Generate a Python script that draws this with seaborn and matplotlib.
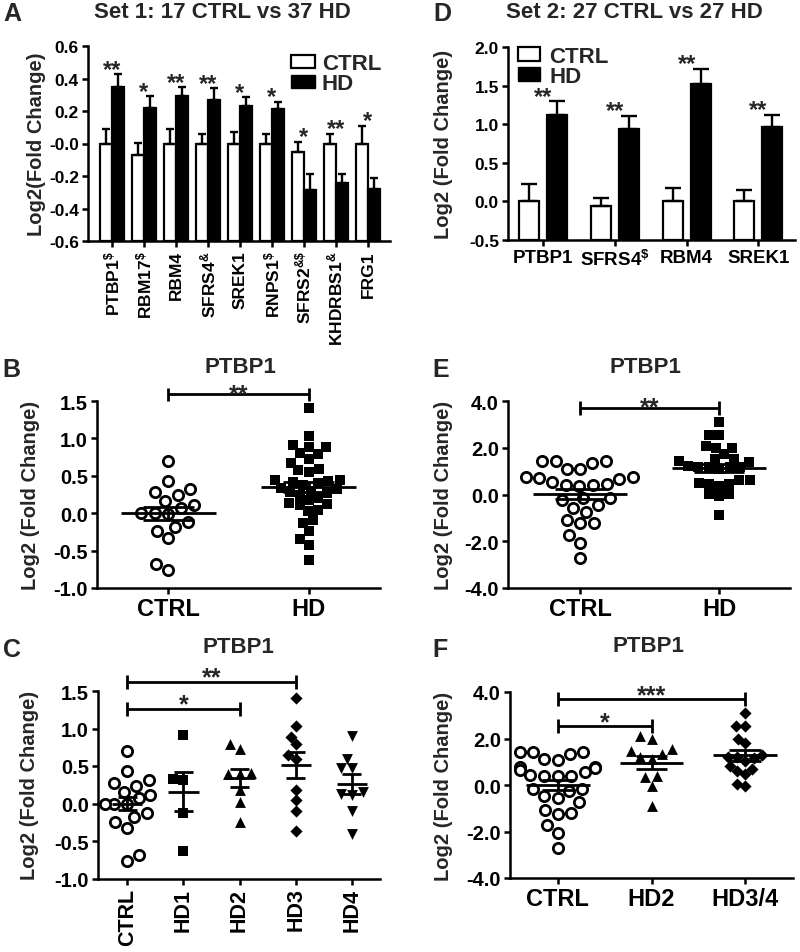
import numpy as np
import pandas as pd
import matplotlib
matplotlib.use("Agg")
import matplotlib.pyplot as plt
import seaborn as sns
from matplotlib.patches import Patch
from matplotlib.ticker import FormatStrFormatter

sns.set_theme(style="ticks")
plt.rcParams['font.family'] = ['Liberation Sans', 'DejaVu Sans']
plt.rcParams['font.weight'] = 'bold'
plt.rcParams['axes.labelweight'] = 'bold'
plt.rcParams['axes.unicode_minus'] = False
plt.rcParams['mathtext.fontset'] = 'custom'
plt.rcParams['mathtext.rm'] = 'Liberation Sans:bold'
plt.rcParams['mathtext.it'] = 'Liberation Sans:bold'
plt.rcParams['mathtext.bf'] = 'Liberation Sans:bold'
plt.rcParams['mathtext.default'] = 'bf'

# ---------------- data ----------------
genes_A = ["PTBP1$^{\\$}$", "RBM17$^{\\$}$", "RBM4", "SFRS4$^{&}$", "SREK1",
           "RNPS1$^{\\$}$", "SFRS2$^{&\\$}$", "KHDRBS1$^{&}$", "FRG1"]
ctrl_A = [0.0, -0.07, 0.0, 0.0, 0.0, 0.0, -0.05, 0.0, 0.0]
ctrl_A_sem = [0.09, 0.075, 0.09, 0.06, 0.07, 0.06, 0.06, 0.06, 0.11]
hd_A = [0.35, 0.22, 0.29, 0.27, 0.23, 0.21, -0.285, -0.24, -0.28]
hd_A_sem = [0.075, 0.07, 0.055, 0.07, 0.055, 0.045, 0.10, 0.055, 0.07]
stars_A = ["**", "*", "**", "**", "*", "*", "*", "**", "*"]

genes_D = ["PTBP1", "SFRS4$^{\\$}$", "RBM4", "SREK1"]
ctrl_D = [0.01, -0.065, 0.01, 0.01]
ctrl_D_sem = [0.21, 0.105, 0.16, 0.14]
hd_D = [1.125, 0.94, 1.525, 0.96]
hd_D_sem = [0.17, 0.17, 0.19, 0.16]
stars_D = ["**", "**", "**", "**"]

# Set 1 (17 CTRL vs 37 HD)
ctrl_set1 = [0.70, 0.43, 0.32, 0.28, 0.24, 0.16, 0.11, 0.07, 0.0, -0.01, 0.0,
             -0.12, -0.18, -0.24, -0.33, -0.68, -0.76]
hd_set1 = [1.41, 1.03, 0.91, 0.88, 0.88, 0.81, 0.79, 0.73, 0.67, 0.59, 0.58, 0.55,
           0.45, 0.45, 0.43, 0.42, 0.40, 0.38, 0.34, 0.32, 0.30, 0.28, 0.27, 0.25,
           0.20, 0.17, 0.14, 0.12, 0.11, 0.04, 0.03, -0.09, -0.13, -0.24, -0.35,
           -0.42, -0.63]
hd1_set1 = [0.92, 0.33, 0.31, -0.13, -0.63]
hd2_set1 = [0.80, 0.73, 0.41, 0.40, 0.40, 0.18, 0.02, -0.24]
hd3_set1 = [1.41, 1.03, 0.89, 0.79, 0.65, 0.60, 0.18, 0.05, -0.10, -0.36]
hd4_set1 = [0.90, 0.60, 0.47, 0.47, 0.16, 0.13, 0.12, -0.10, -0.40]

# Set 2 (27 CTRL vs 27 HD)
ctrl_set2 = [1.44, 1.44, 1.33, 1.44, 1.11, 1.07, 0.76, 0.76, 0.71, 0.54, 0.43, 0.66,
             0.40, 0.37, 0.40, -0.17, -0.24, -0.17, -0.57, -0.46, -0.74, -1.24,
             -1.07, -1.20, -1.74, -2.06, -2.72]
hd_set2 = [3.11, 2.54, 2.54, 2.07, 2.0, 2.0, 1.73, 1.54, 1.5, 1.37, 1.43, 1.16,
           1.16, 1.2, 1.1, 1.16, 1.16, 0.47, 0.36, 0.01, 0.61, 0.64, 0.47, 0.5,
           -0.07, 0.04, -0.89]
hd2_set2 = [2.09, 2.0, 1.54, 1.47, 1.33, 1.19, 1.11, 0.40, 0.36, -0.03, -0.89]
hd34_set2 = [3.11, 2.54, 2.54, 2.0, 1.79, 1.30, 1.20, 1.19, 1.16, 1.04, 0.83,
             0.69, 0.61, 0.47, 0.04, -0.06]

# ---------------- figure ----------------
W, H = 800, 953
fig = plt.figure(figsize=(W / 100, H / 100), dpi=100)


def ax_px(l, r, t, b):
    return fig.add_axes([l / W, 1 - b / H, (r - l) / W, (b - t) / H])


def style(ax, ytick_fs, xtick_fs):
    sns.despine(ax=ax)
    for s in ["left", "bottom"]:
        ax.spines[s].set_linewidth(1.8)
        ax.spines[s].set_color("black")
    ax.tick_params(width=1.8, length=4.5, color="black", labelcolor="black",
                   direction="out", pad=2)
    ax.tick_params(axis="y", labelsize=ytick_fs)
    ax.tick_params(axis="x", labelsize=xtick_fs)
    for lab in ax.get_xticklabels() + ax.get_yticklabels():
        lab.set_fontweight("bold")
    ax.grid(False)
    ax.set_facecolor("white")


def bar_panel(ax, genes, ctrl, ctrl_sem, hd, hd_sem, stars, ymin, width, gap,
              capsize, star_fs):
    df = pd.DataFrame({"gene": genes * 2,
                       "group": ["CTRL"] * len(genes) + ["HD"] * len(genes),
                       "value": ctrl + hd})
    sns.barplot(data=df, x="gene", y="value", hue="group", hue_order=["CTRL", "HD"],
                palette={"CTRL": "white", "HD": "black"}, edgecolor="black",
                linewidth=1.6, width=width, gap=gap, errorbar=None, saturation=1,
                legend=False, ax=ax)
    tops_all = []
    for cont, sem in zip(ax.containers[:2], [ctrl_sem, hd_sem]):
        xs, tops = [], []
        for p in cont.patches:
            top = p.get_y() + p.get_height()
            p.set_y(ymin)
            p.set_height(top - ymin)
            xs.append(p.get_x() + p.get_width() / 2)
            tops.append(top)
        ax.errorbar(xs, tops, yerr=[np.zeros(len(sem)), sem], fmt="none",
                    ecolor="black", elinewidth=1.7, capsize=capsize, capthick=1.7,
                    zorder=4)
        tops_all.append(np.array(tops) + np.array(sem))
    peak = np.maximum(tops_all[0], tops_all[1])
    for i, (s, y) in enumerate(zip(stars, peak)):
        ax.annotate(s, xy=(i, y), xytext=(0, -1), textcoords="offset points",
                    ha="center", va="baseline", fontsize=star_fs, fontweight="bold",
                    annotation_clip=False)
    ax.set_xlabel("")


def scatter_panel(ax, groups, values, markers, sizes, filled, mean_hw, sem_hw):
    for g, vals, m, s, f in zip(groups, values, markers, sizes, filled):
        d = pd.DataFrame({"group": [g] * len(vals), "value": vals})
        if f:
            sns.swarmplot(data=d, x="group", y="value", order=groups, marker=m,
                          size=s, color="black", edgecolor="black", linewidth=0,
                          ax=ax, zorder=3)
        else:
            sns.swarmplot(data=d, x="group", y="value", order=groups, marker=m,
                          size=s, color="white", edgecolor="black", linewidth=2.0,
                          ax=ax, zorder=3)
        i = groups.index(g)
        mean = np.mean(vals)
        sem = np.std(vals, ddof=1) / np.sqrt(len(vals))
        ax.hlines(mean, i - mean_hw, i + mean_hw, color="black", lw=2.0, zorder=5)
        ax.hlines([mean - sem, mean + sem], i - sem_hw, i + sem_hw, color="black",
                  lw=2.0, zorder=5)
        ax.vlines(i, mean - sem, mean + sem, color="black", lw=2.0, zorder=5)
    ax.set_xlabel("")


def bracket(ax, x1, x2, y, h, text, fs, dy):
    kw = dict(color="black", lw=2.0, clip_on=False, solid_capstyle="butt")
    ax.plot([x1, x2], [y, y], **kw)
    ax.plot([x1, x1], [y - h, y + h], **kw)
    ax.plot([x2, x2], [y - h, y + h], **kw)
    ax.annotate(text, xy=((x1 + x2) / 2, y), xytext=(0, dy), textcoords="offset points",
                ha="center", va="baseline", fontsize=fs, fontweight="bold",
                annotation_clip=False)


fmt1 = FormatStrFormatter("%.1f")
YL = 14.5

# ----- Panel A -----
axA = ax_px(88, 390, 47, 242)
bar_panel(axA, genes_A, ctrl_A, ctrl_A_sem, hd_A, hd_A_sem, stars_A, -0.6,
          0.74, 0, 3.0, 17)
axA.set_ylim(-0.6, 0.6)
axA.set_xlim(-0.75, 8.69)
axA.set_yticks([-0.6, -0.4, -0.2, 0.0, 0.2, 0.4, 0.6])
axA.set_yticklabels(["-0.6", "-0.4", "-0.2", "-0.0", "0.2", "0.4", "0.6"])
axA.set_ylabel("Log2(Fold Change)", fontsize=YL, fontweight="bold")
axA.yaxis.set_label_coords(-0.14, 0.5)
style(axA, 12.5, 12.5)
for lab in axA.get_xticklabels():
    lab.set_rotation(90)
axA.legend(handles=[Patch(facecolor="white", edgecolor="black", linewidth=1.6, label="CTRL"),
                    Patch(facecolor="black", edgecolor="black", label="HD")],
           loc="upper right", bbox_to_anchor=(0.985, 0.985), frameon=False,
           prop={"size": 16, "weight": "bold"}, handlelength=1.1, handleheight=0.55,
           handletextpad=0.3, labelspacing=-0.05, borderaxespad=0.0, borderpad=0.2)

# ----- Panel D -----
axD = ax_px(508, 795, 48, 241)
bar_panel(axD, genes_D, ctrl_D, ctrl_D_sem, hd_D, hd_D_sem, stars_D, -0.5,
          0.78, 0.28, 5.5, 17)
axD.set_ylim(-0.5, 2.0)
axD.set_xlim(-0.49, 3.51)
axD.set_yticks([-0.5, 0.0, 0.5, 1.0, 1.5, 2.0])
axD.yaxis.set_major_formatter(fmt1)
axD.set_ylabel("Log2 (Fold Change)", fontsize=YL, fontweight="bold")
axD.yaxis.set_label_coords(-0.19, 0.5)
style(axD, 12.5, 13.5)
axD.legend(handles=[Patch(facecolor="white", edgecolor="black", linewidth=1.6, label="CTRL"),
                    Patch(facecolor="black", edgecolor="black", label="HD")],
           loc="upper left", bbox_to_anchor=(0.02, 1.03), frameon=False,
           prop={"size": 16, "weight": "bold"}, handlelength=1.0, handleheight=0.6,
           handletextpad=0.4, labelspacing=-0.05, borderaxespad=0.0, borderpad=0.2)

# ----- Panel B -----
axB = ax_px(97, 380, 402, 589)
scatter_panel(axB, ["CTRL", "HD"], [ctrl_set1, hd_set1], ["o", "s"], [7.4, 7.2],
              [False, True], 0.34, 0.18)
axB.set_ylim(-1.0, 1.5)
axB.set_xlim(-0.51, 1.51)
axB.set_yticks([-1.0, -0.5, 0.0, 0.5, 1.0, 1.5])
axB.yaxis.set_major_formatter(fmt1)
axB.set_ylabel("Log2 (Fold Change)", fontsize=YL, fontweight="bold")
axB.yaxis.set_label_coords(-0.2, 0.5)
style(axB, 14.5, 17)
bracket(axB, 0, 1, 1.59, 0.09, "**", 18, -5)

# ----- Panel E -----
axE = ax_px(508, 790, 402, 589)
scatter_panel(axE, ["CTRL", "HD"], [ctrl_set2, hd_set2], ["o", "s"], [7.4, 7.2],
              [False, True], 0.34, 0.18)
axE.set_ylim(-4.0, 4.0)
axE.set_xlim(-0.52, 1.51)
axE.set_yticks([-4.0, -2.0, 0.0, 2.0, 4.0])
axE.yaxis.set_major_formatter(fmt1)
axE.set_ylabel("Log2 (Fold Change)", fontsize=YL, fontweight="bold")
axE.yaxis.set_label_coords(-0.195, 0.5)
style(axE, 14.5, 17)
bracket(axE, 0, 1, 3.71, 0.3, "**", 18, -5)

# ----- Panel C -----
axC = ax_px(98, 380, 692, 879.5)
scatter_panel(axC, ["CTRL", "HD1", "HD2", "HD3", "HD4"],
              [ctrl_set1, hd1_set1, hd2_set1, hd3_set1, hd4_set1],
              ["o", "s", "^", "D", "v"], [7.4, 7.2, 7.8, 6.2, 7.8],
              [False, True, True, True, True], 0.27, 0.17)
axC.set_ylim(-1.0, 1.5)
axC.set_xlim(-0.52, 4.5)
axC.set_yticks([-1.0, -0.5, 0.0, 0.5, 1.0, 1.5])
axC.yaxis.set_major_formatter(fmt1)
axC.set_ylabel("Log2 (Fold Change)", fontsize=YL, fontweight="bold")
axC.yaxis.set_label_coords(-0.21, 0.5)
style(axC, 14.5, 15.5)
for lab in axC.get_xticklabels():
    lab.set_rotation(90)
bracket(axC, 0, 3, 1.62, 0.09, "**", 18, -2)
bracket(axC, 0, 2, 1.26, 0.09, "*", 18, -2)

# ----- Panel F -----
axF = ax_px(510, 793, 693, 879)
scatter_panel(axF, ["CTRL", "HD2", "HD3/4"], [ctrl_set2, hd2_set2, hd34_set2],
              ["o", "^", "D"], [7.4, 7.8, 6.2], [False, True, True], 0.34, 0.17)
axF.set_ylim(-4.0, 4.0)
axF.set_xlim(-0.51, 2.51)
axF.set_yticks([-4.0, -2.0, 0.0, 2.0, 4.0])
axF.yaxis.set_major_formatter(fmt1)
axF.set_ylabel("Log2 (Fold Change)", fontsize=YL, fontweight="bold")
axF.yaxis.set_label_coords(-0.2, 0.5)
style(axF, 14.5, 17)
bracket(axF, 0, 2, 3.69, 0.3, "***", 18, -2)
bracket(axF, 0, 1, 2.53, 0.3, "*", 18, -2)

# ----- titles and panel letters -----
def ftext(x, y, s, fs, ha="center"):
    fig.text(x / W, 1 - y / H, s, ha=ha, va="center", fontsize=fs, fontweight="bold")

ftext(222, 13, "Set 1: 17 CTRL vs 37 HD", 16)
ftext(634, 13, "Set 2: 27 CTRL vs 27 HD", 16)
ftext(240, 368, "PTBP1", 16)
ftext(645, 368, "PTBP1", 16)
ftext(238, 648, "PTBP1", 16)
ftext(648, 647, "PTBP1", 16)
for letter, x, y in [("A", 3, 14), ("B", 2, 370), ("C", 3, 650),
                     ("D", 433, 14), ("E", 432, 370), ("F", 432, 650)]:
    ftext(x, y, letter, 18, ha="left")

fig.savefig("out.png", dpi=100, facecolor="white")
